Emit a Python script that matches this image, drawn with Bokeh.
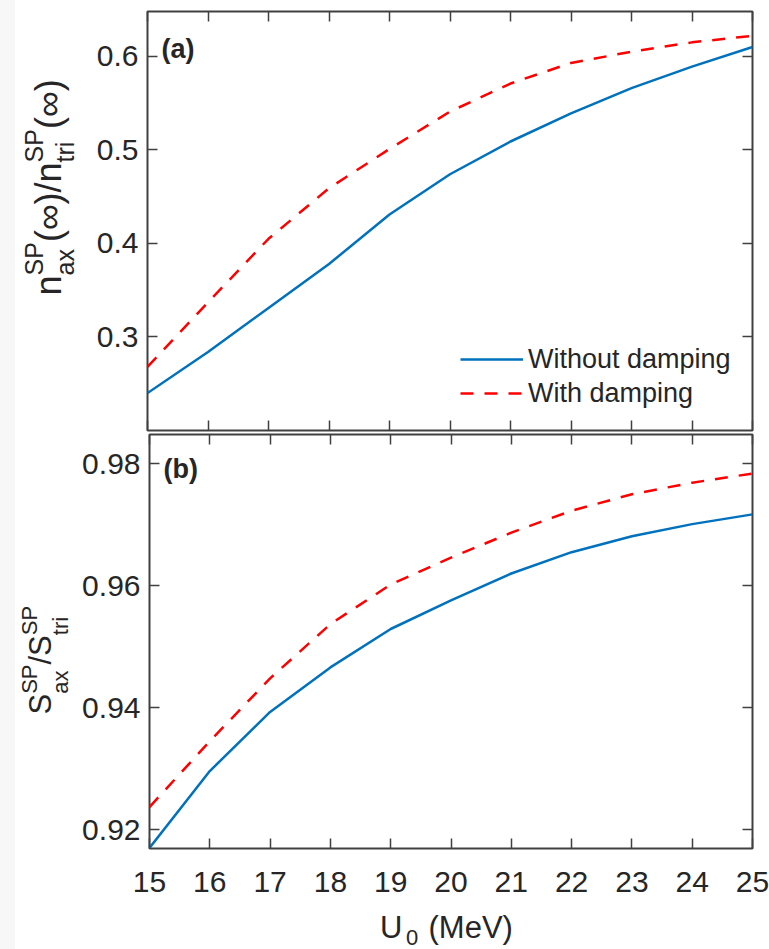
import math

from bokeh.embed import file_html
from bokeh.layouts import column, row
from bokeh.models import (CustomLabelingPolicy, FixedTicker, Label, Legend,
                          LegendItem, LinearAxis, Range1d, Spacer)
from bokeh.plotting import figure
from bokeh.resources import INLINE

# Potential depth U0 (MeV)
u0 = [15, 16, 17, 18, 19, 20, 21, 22, 23, 24, 25]

# (a) asymptotic population ratio n_ax / n_tri
n_ratio_no_damping = [0.240, 0.284, 0.331, 0.378, 0.431, 0.474, 0.509, 0.539, 0.566, 0.589, 0.610]
n_ratio_damping = [0.268, 0.337, 0.405, 0.459, 0.501, 0.541, 0.571, 0.593, 0.605, 0.615, 0.622]

# (b) survival ratio S_ax / S_tri
s_ratio_no_damping = [0.9170, 0.9296, 0.9393, 0.9466, 0.9529, 0.9576, 0.9620, 0.9655, 0.9681, 0.9701, 0.9717]
s_ratio_damping = [0.9237, 0.9345, 0.9448, 0.9537, 0.9602, 0.9646, 0.9687, 0.9723, 0.9750, 0.9769, 0.9784]

x_ticks = [15, 16, 17, 18, 19, 20, 21, 22, 23, 24, 25]
n_ticks = [0.3, 0.4, 0.5, 0.6]
s_ticks = [0.92, 0.94, 0.96, 0.98]
series_names = ["Without damping", "With damping"]

BLUE = "#0072BD"
RED = "#FF0000"
INK = "#262626"
FRAME = "#404040"
FONT = "Liberation Sans"
TICK_SIZE = "30px"
V = math.pi / 2

# tick marks only (mirrored axes): suppress every tick label
NO_LABELS = """
for (const i of indices) {
    indices.unset(i)
}
return indices
"""


def style_axis(ax, ticks, show_labels, standoff=10):
    ax.ticker = FixedTicker(ticks=ticks)
    ax.major_tick_in = 10
    ax.major_tick_out = 0
    ax.major_tick_line_color = FRAME
    ax.major_tick_line_width = 1.5
    ax.minor_tick_line_color = None
    ax.axis_line_color = None
    ax.axis_label = None
    if show_labels:
        ax.major_label_text_font = FONT
        ax.major_label_text_font_size = TICK_SIZE
        ax.major_label_text_color = INK
        ax.major_label_standoff = standoff
    else:
        ax.major_label_policy = CustomLabelingPolicy(code=NO_LABELS)
        ax.major_label_text_font_size = "0px"
        ax.major_label_standoff = 0


def make_panel(height, y_lo, y_hi, y_ticks, border_top, border_bottom, x_labels):
    p = figure(width=690, height=height, output_backend="svg", toolbar_location=None,
               x_range=Range1d(15, 25), y_range=Range1d(y_lo, y_hi),
               min_border_left=68, min_border_right=17,
               min_border_top=border_top, min_border_bottom=border_bottom)
    p.xgrid.visible = False
    p.ygrid.visible = False
    p.outline_line_color = FRAME
    p.outline_line_width = 2
    p.outline_line_alpha = 1.0
    p.background_fill_color = "white"
    p.border_fill_color = "white"

    style_axis(p.xaxis[0], x_ticks, x_labels, standoff=23)
    style_axis(p.yaxis[0], y_ticks, True, standoff=9)

    top = LinearAxis()
    style_axis(top, x_ticks, False)
    p.add_layout(top, "above")
    right = LinearAxis()
    style_axis(right, y_ticks, False)
    p.add_layout(right, "right")
    return p


def text_strip(width, height):
    """Blank canvas without axes; used to hold axis titles.

    In a row its frame is aligned with the neighbouring plot frame, so label
    positions are measured from that frame's bottom edge."""
    f = figure(width=width, height=height, output_backend="svg", toolbar_location=None,
               x_range=Range1d(0, width), y_range=Range1d(0, height),
               x_axis_location=None, y_axis_location=None,
               min_border_left=0, min_border_right=0, min_border_top=0, min_border_bottom=0)
    f.xgrid.visible = False
    f.ygrid.visible = False
    f.outline_line_color = None
    f.background_fill_color = "white"
    f.border_fill_color = "white"
    return f


def add_text(p, text, x, y, size, angle=0.0, bold=False):
    p.add_layout(Label(x=x, y=y, x_units="screen", y_units="screen", text=text,
                       angle=angle, text_font=FONT, text_font_size=size,
                       text_font_style="bold" if bold else "normal",
                       text_color=INK, text_align="left", text_baseline="middle"))


# ---------- panel (a) ----------
pa = make_panel(432, 0.2, 0.648, n_ticks, 11, 2, False)
ra1 = pa.line(u0, n_ratio_no_damping, line_color=BLUE, line_width=2.5)
ra2 = pa.line(u0, n_ratio_damping, line_color=RED, line_width=2.5, line_dash="13 11")

legend = Legend(items=[LegendItem(label=series_names[0], renderers=[ra1]),
                       LegendItem(label=series_names[1], renderers=[ra2])],
                location=(313, 20), orientation="vertical",
                glyph_width=63, glyph_height=34, label_height=34, label_standoff=5,
                padding=0, margin=0, spacing=0,
                border_line_color=None, background_fill_alpha=0,
                label_text_font=FONT, label_text_font_size="27px", label_text_color=INK)
pa.add_layout(legend, "center")
add_text(pa, "(a)", 14, 382, "27px", bold=True)

# y title of (a): n^SP_ax(inf) / n^SP_tri(inf), read bottom to top
ta = text_strip(64, 432)
add_text(ta, "n", 32.5, 135, "36px", V)
add_text(ta, "SP", 18.3, 155, "25px", V)
add_text(ta, "ax", 49.8, 155, "25px", V)
add_text(ta, "(\u221e)/n", 32.5, 188.4, "36px", V)
add_text(ta, "SP", 18.3, 268.1, "25px", V)
add_text(ta, "tri", 49.8, 268.1, "25px", V)
add_text(ta, "(\u221e)", 32.5, 301.5, "36px", V)

# ---------- panel (b) ----------
pb = make_panel(473, 0.9169, 0.9848, s_ticks, 2, 57, True)
pb.line(u0, s_ratio_no_damping, line_color=BLUE, line_width=2.5)
pb.line(u0, s_ratio_damping, line_color=RED, line_width=2.5, line_dash="13 11")
add_text(pb, "(b)", 14, 380, "27px", bold=True)

# y title of (b): S^SP_ax / S^SP_tri
tb = text_strip(64, 473)
add_text(tb, "S", 25.3, 134, "31px", V)
add_text(tb, "SP", 14.4, 154.7, "22px", V)
add_text(tb, "ax", 45.4, 154.7, "22px", V)
add_text(tb, "/S", 25.3, 184, "31px", V)
add_text(tb, "SP", 14.4, 213.3, "22px", V)
add_text(tb, "tri", 45.4, 213.3, "22px", V)

# x title: U_0 (MeV)
tx = text_strip(754, 44)
add_text(tx, "U", 364.5, 21.7, "31px")
add_text(tx, "0", 390.5, 12.5, "22px")
add_text(tx, "(MeV)", 413, 21.7, "31px")

strip = Spacer(width=15, height=949, styles={"background-color": "#f7f7f7"})
body = column(row(ta, pa, spacing=0), row(tb, pb, spacing=0), tx, spacing=0)
layout = row(strip, body, spacing=0)

open("out.html", "w").write(file_html(layout, INLINE))
